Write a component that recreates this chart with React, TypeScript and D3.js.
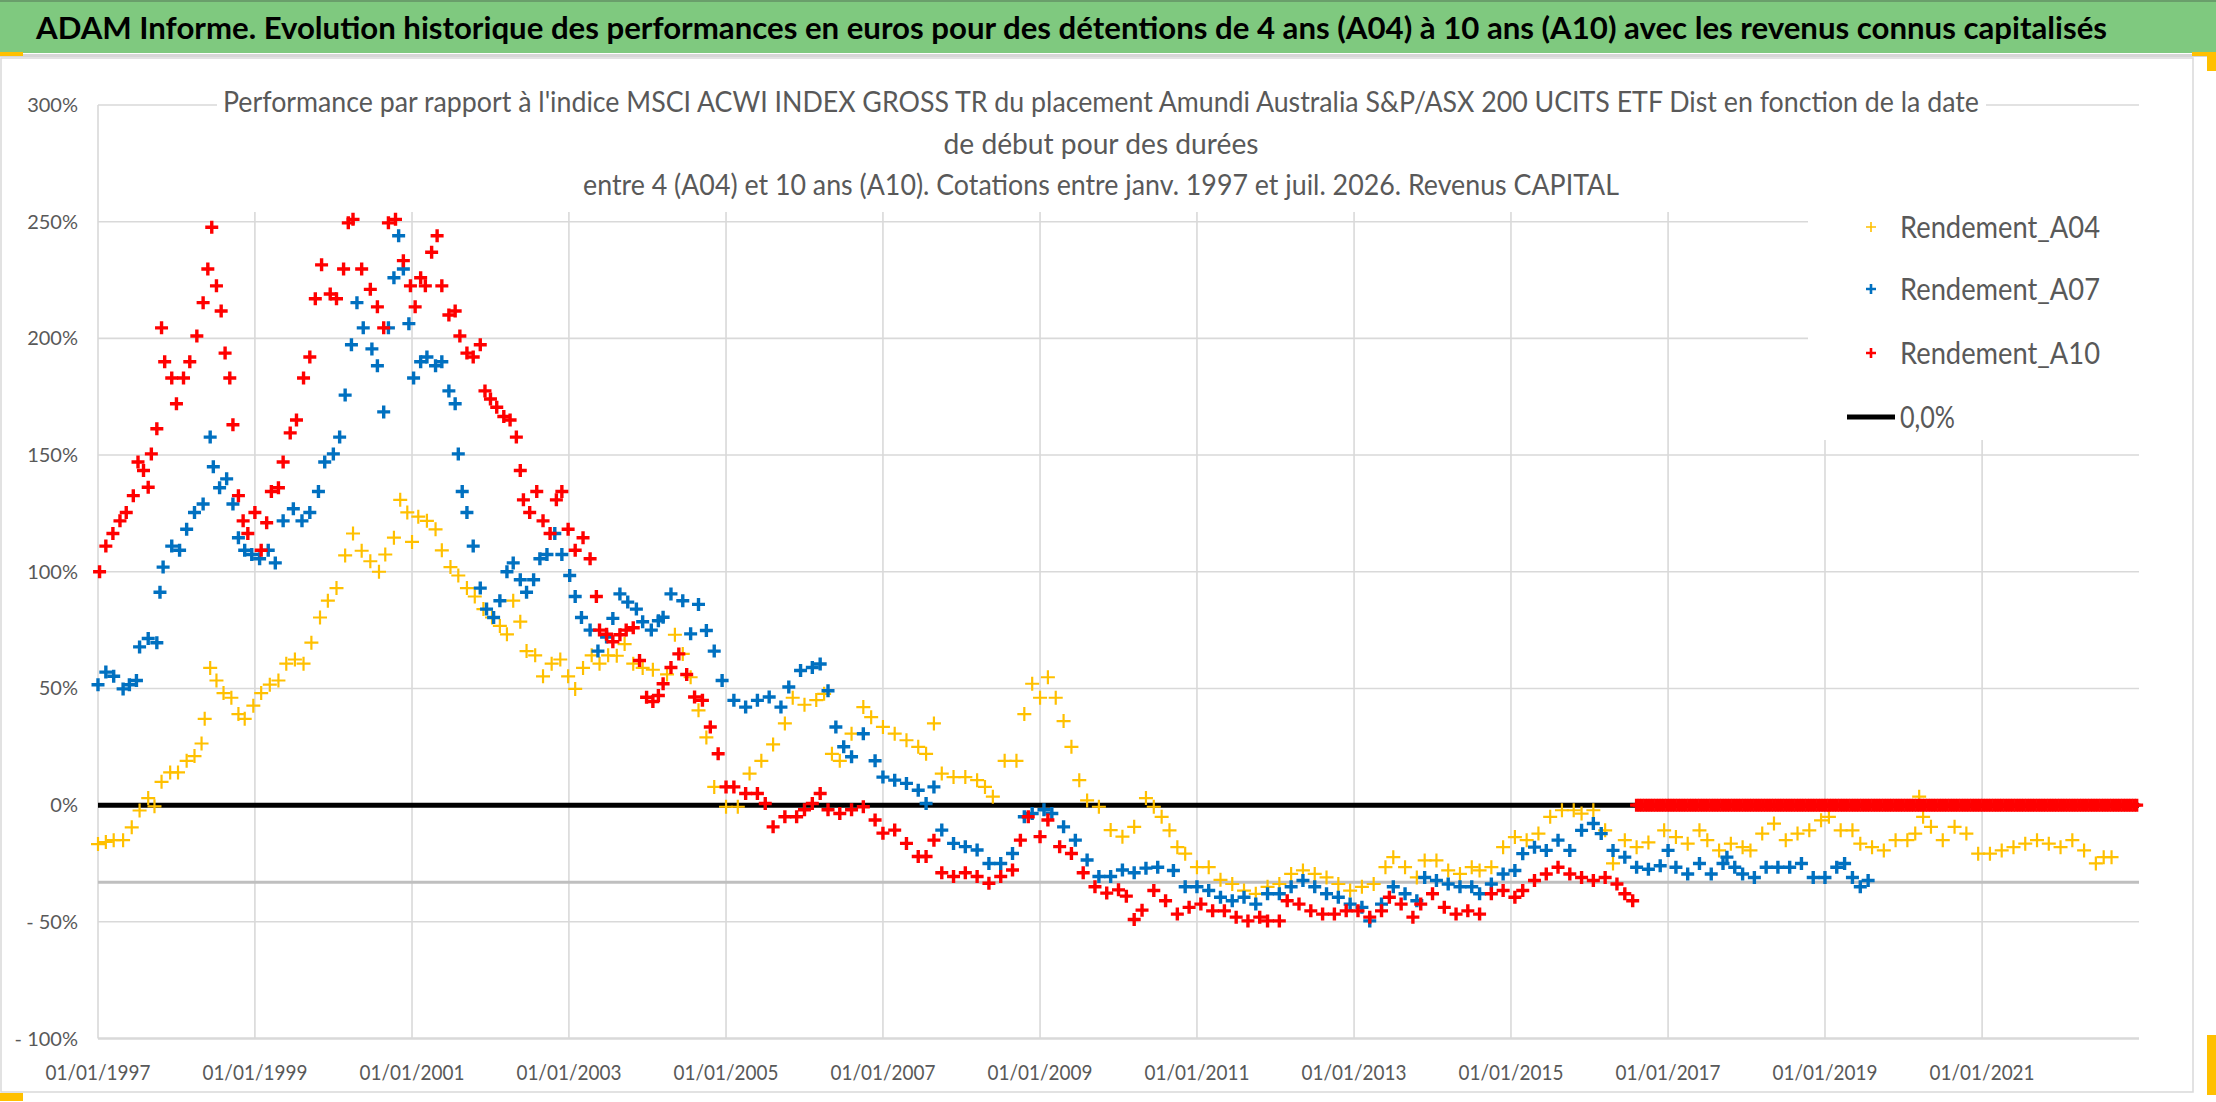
import React from "react";
import * as d3 from "d3";

// Taille de l'image
const width = 2216;
const height = 1102;

// Rendement_A04 : [année décimale, %]
const a04: [number, number][] = [
    [1997.00, -16.7], [1997.10, -15.8], [1997.20, -15], [1997.32, -15], [1997.43, -9.5], [1997.53, -2.3],
    [1997.64, 3], [1997.72, -0.5], [1997.81, 10], [1997.92, 14], [1998.02, 14], [1998.13, 19], [1998.23, 21],
    [1998.32, 26.4], [1998.36, 37], [1998.43, 58.8], [1998.51, 53.4], [1998.60, 48], [1998.70, 46], [1998.79, 39],
    [1998.87, 37], [1998.98, 42.6], [1999.08, 48], [1999.19, 51.6], [1999.30, 53.4], [1999.40, 60.6], [1999.51, 62.4],
    [1999.62, 60.6], [1999.72, 69.6], [1999.83, 80.4], [1999.93, 87.6], [2000.04, 93], [2000.15, 107], [2000.25, 116.4],
    [2000.36, 109], [2000.47, 104.5], [2000.58, 100], [2000.66, 107.4], [2000.77, 114.6], [2000.85, 130.8],
    [2000.94, 125.4], [2001.00, 112.8], [2001.08, 123.6], [2001.19, 121.8], [2001.30, 118.2], [2001.38, 109.2],
    [2001.49, 102], [2001.59, 98.4], [2001.70, 93], [2001.80, 89.4], [2001.91, 84], [2002.02, 80.4], [2002.12, 76.8],
    [2002.21, 73.2], [2002.29, 87.6], [2002.38, 78.6], [2002.46, 66], [2002.57, 64.2], [2002.67, 55.2], [2002.78, 60.6],
    [2002.89, 62.4], [2002.99, 55.2], [2003.08, 49.8], [2003.18, 58.8], [2003.29, 64.2], [2003.39, 60.6], [2003.50, 64.2],
    [2003.61, 64], [2003.71, 69], [2003.82, 60.6], [2003.94, 58.8], [2004.07, 58], [2004.25, 56], [2004.35, 73],
    [2004.45, 64.8], [2004.55, 54.8], [2004.65, 40.6], [2004.75, 29], [2004.85, 7.8], [2005.00, -0.7], [2005.15, -0.7],
    [2005.30, 13.5], [2005.45, 19], [2005.60, 26], [2005.75, 35], [2005.85, 46], [2006.00, 43], [2006.15, 45],
    [2006.25, 47.7], [2006.35, 22], [2006.45, 19], [2006.60, 30.6], [2006.75, 42], [2006.85, 37.7], [2007.00, 33.5],
    [2007.15, 30.6], [2007.30, 27.8], [2007.45, 25], [2007.55, 22], [2007.65, 35], [2007.75, 13.5], [2007.90, 12],
    [2008.05, 12], [2008.20, 10.7], [2008.30, 7.8], [2008.40, 3.6], [2008.55, 19], [2008.70, 19], [2008.80, 39],
    [2008.90, 52], [2009.00, 46], [2009.10, 54.8], [2009.20, 46], [2009.30, 36], [2009.40, 25], [2009.50, 10.7],
    [2009.60, 2], [2009.75, -0.7], [2009.90, -10.7], [2010.05, -13.5], [2010.20, -9.3], [2010.35, 3], [2010.45, -0.7],
    [2010.55, -5], [2010.65, -10.8], [2010.75, -18], [2010.85, -20.8], [2011.00, -26.6], [2011.15, -26.6],
    [2011.30, -32], [2011.45, -33.8], [2011.60, -36.6], [2011.75, -38], [2011.90, -35], [2012.05, -33.8],
    [2012.20, -29.5], [2012.35, -28], [2012.50, -29.5], [2012.65, -31], [2012.80, -33.8], [2012.95, -36.6],
    [2013.10, -35], [2013.25, -33.8], [2013.40, -26.6], [2013.50, -22.3], [2013.65, -26.6], [2013.80, -31],
    [2013.90, -23.7], [2014.05, -23.7], [2014.20, -28], [2014.35, -29.5], [2014.50, -26.6], [2014.60, -28],
    [2014.75, -26.6], [2014.90, -18], [2015.05, -13.7], [2015.20, -15], [2015.35, -12.2], [2015.50, -5],
    [2015.65, -2.2], [2015.80, -2.2], [2015.90, -3.6], [2016.05, -2.2], [2016.20, -10.8], [2016.30, -25],
    [2016.45, -15], [2016.60, -18], [2016.75, -16], [2016.95, -10.8], [2017.10, -13.7], [2017.25, -16.5],
    [2017.40, -10.8], [2017.50, -15], [2017.65, -19.4], [2017.80, -16.5], [2017.95, -18], [2018.05, -19.4],
    [2018.20, -12.2], [2018.35, -7.9], [2018.50, -15], [2018.65, -12.2], [2018.80, -10.8], [2018.95, -6.5],
    [2019.05, -5], [2019.20, -10.8], [2019.35, -10.8], [2019.45, -16.5], [2019.60, -18], [2019.75, -19.4],
    [2019.90, -15], [2020.05, -15], [2020.15, -12.2], [2020.20, 3.6], [2020.25, -5], [2020.35, -9.3], [2020.50, -15],
    [2020.65, -9.3], [2020.80, -12.2], [2020.95, -20.8], [2021.10, -20.8], [2021.25, -19.4], [2021.40, -18],
    [2021.55, -16.5], [2021.70, -15], [2021.85, -16.5], [2022.00, -18], [2022.15, -15], [2022.30, -19.4],
    [2022.45, -25], [2022.55, -22.3], [2022.65, -22.3],
];

// Rendement_A07
const a07: [number, number][] = [
    [1997.00, 51.6], [1997.10, 57], [1997.20, 55.2], [1997.32, 49.8], [1997.40, 51.6], [1997.49, 53.4],
    [1997.53, 67.8], [1997.64, 71.4], [1997.75, 69.6], [1997.79, 91.2], [1997.83, 102], [1997.94, 111],
    [1998.04, 109.2], [1998.13, 118.2], [1998.23, 125.4], [1998.34, 129], [1998.43, 157.7], [1998.47, 145],
    [1998.55, 136], [1998.64, 139.8], [1998.72, 129], [1998.79, 114.6], [1998.87, 109.2], [1998.96, 107.4],
    [1999.06, 105.6], [1999.17, 109.2], [1999.26, 103.8], [1999.36, 121.8], [1999.49, 127], [1999.60, 121.8],
    [1999.70, 125.4], [1999.81, 134.4], [1999.89, 147], [2000.00, 150.5], [2000.08, 157.7], [2000.15, 175.7],
    [2000.23, 197.3], [2000.30, 215.3], [2000.38, 204.5], [2000.49, 195.5], [2000.56, 188.3], [2000.64, 168.5],
    [2000.70, 204.5], [2000.77, 226], [2000.83, 244], [2000.89, 229.7], [2000.96, 206.3], [2001.02, 183],
    [2001.11, 190], [2001.19, 192], [2001.30, 188.3], [2001.38, 190], [2001.47, 177.5], [2001.55, 172],
    [2001.59, 150.5], [2001.64, 134.4], [2001.70, 125.4], [2001.78, 111], [2001.87, 93], [2001.95, 84],
    [2002.04, 80.4], [2002.12, 87.6], [2002.21, 100], [2002.29, 103.8], [2002.38, 96.6], [2002.46, 91.2],
    [2002.55, 96.6], [2002.63, 105.6], [2002.72, 107.4], [2002.82, 116.4], [2002.91, 107.4], [2003.01, 98.4],
    [2003.08, 89.4], [2003.16, 80.4], [2003.27, 75], [2003.37, 66], [2003.48, 72], [2003.56, 80], [2003.65, 90.5],
    [2003.75, 87], [2003.86, 84], [2003.94, 78.6], [2004.05, 75], [2004.14, 79], [2004.20, 80.5], [2004.30, 90.5],
    [2004.45, 87.6], [2004.55, 73.4], [2004.65, 86], [2004.75, 74.8], [2004.85, 66], [2004.95, 53.4],
    [2005.10, 44.9], [2005.25, 42], [2005.40, 44.9], [2005.55, 46.3], [2005.70, 42], [2005.80, 50.6],
    [2005.95, 57.7], [2006.10, 59], [2006.20, 60.5], [2006.30, 49], [2006.40, 33.5], [2006.50, 25], [2006.60, 20.7],
    [2006.75, 30.6], [2006.90, 19], [2007.00, 12], [2007.15, 10.7], [2007.30, 9.3], [2007.45, 6.4], [2007.55, 0.7],
    [2007.65, 7.8], [2007.75, -10.7], [2007.90, -16.4], [2008.05, -17.8], [2008.20, -19.2], [2008.35, -25],
    [2008.50, -25], [2008.65, -20.7], [2008.80, -5], [2008.90, -3.6], [2009.05, -2], [2009.15, -3.6],
    [2009.30, -9.3], [2009.45, -15], [2009.60, -23.5], [2009.75, -30.6], [2009.90, -30.6], [2010.05, -27.8],
    [2010.20, -29], [2010.35, -27], [2010.50, -26.6], [2010.70, -28], [2010.85, -35], [2011.00, -35],
    [2011.15, -36.6], [2011.30, -39.5], [2011.45, -41], [2011.60, -39.5], [2011.75, -42.4], [2011.90, -38],
    [2012.05, -38], [2012.20, -35], [2012.35, -32.3], [2012.50, -35], [2012.65, -38], [2012.80, -39.5],
    [2012.95, -42.4], [2013.10, -43.8], [2013.20, -49.6], [2013.35, -42.4], [2013.50, -35], [2013.65, -38],
    [2013.80, -41], [2013.90, -31], [2014.05, -32.3], [2014.20, -33.8], [2014.35, -35], [2014.50, -35],
    [2014.60, -38], [2014.75, -33.8], [2014.90, -29.5], [2015.05, -28], [2015.15, -20.8], [2015.30, -18],
    [2015.45, -19.4], [2015.60, -15], [2015.75, -19.4], [2015.90, -10.8], [2016.05, -7.9], [2016.15, -12.2],
    [2016.30, -19.4], [2016.45, -22.3], [2016.60, -26.6], [2016.75, -27.5], [2016.90, -26], [2017.00, -19.4],
    [2017.10, -26.6], [2017.25, -29.5], [2017.40, -25], [2017.55, -29.5], [2017.70, -25], [2017.75, -22.3],
    [2017.85, -26.6], [2017.95, -29.5], [2018.10, -31], [2018.25, -26.6], [2018.40, -26.6], [2018.55, -26.6],
    [2018.70, -25], [2018.85, -31], [2019.00, -31], [2019.15, -26.6], [2019.25, -25], [2019.35, -31],
    [2019.45, -35], [2019.55, -32.3],
];

// Rendement_A10
const a10: [number, number][] = [
    [1997.02, 100], [1997.10, 111], [1997.19, 116.4], [1997.28, 121.8], [1997.36, 125.4], [1997.45, 132.6],
    [1997.51, 147], [1997.58, 143.4], [1997.64, 136.2], [1997.68, 150.5], [1997.75, 161.3], [1997.81, 204.5],
    [1997.85, 190], [1997.94, 183], [1998.00, 172], [1998.09, 183], [1998.17, 190], [1998.26, 201],
    [1998.34, 215.3], [1998.40, 229.7], [1998.45, 247.6], [1998.51, 222.5], [1998.57, 211.7], [1998.62, 193.7],
    [1998.68, 183], [1998.72, 163], [1998.79, 132.6], [1998.85, 121.8], [1998.91, 116.4], [1999.00, 125.4],
    [1999.08, 109.2], [1999.15, 121], [1999.21, 134.4], [1999.30, 136], [1999.36, 147], [1999.45, 159.5],
    [1999.53, 165], [1999.62, 183], [1999.70, 192], [1999.77, 217], [1999.85, 231.5], [1999.96, 219],
    [2000.04, 217], [2000.13, 229.7], [2000.19, 249.5], [2000.25, 251], [2000.36, 229.7], [2000.47, 221],
    [2000.56, 213.5], [2000.64, 204.5], [2000.70, 249.5], [2000.79, 251], [2000.89, 233.3], [2000.98, 222.5],
    [2001.04, 213.5], [2001.11, 226], [2001.17, 222.5], [2001.25, 236.9], [2001.32, 244], [2001.38, 222.5],
    [2001.47, 210], [2001.55, 211.7], [2001.61, 201], [2001.70, 193.7], [2001.78, 192], [2001.87, 197.3],
    [2001.93, 177.5], [2002.00, 174], [2002.08, 170.5], [2002.17, 166.5], [2002.25, 165], [2002.33, 157.7],
    [2002.38, 143.4], [2002.42, 130.8], [2002.50, 125.4], [2002.59, 134.4], [2002.67, 121.8], [2002.76, 116.4],
    [2002.84, 130.8], [2002.91, 134.4], [2002.99, 118.2], [2003.08, 109.2], [2003.18, 114.6], [2003.27, 105.6],
    [2003.35, 89.4], [2003.39, 75], [2003.48, 73.2], [2003.56, 70], [2003.65, 73], [2003.73, 75], [2003.82, 76],
    [2003.90, 62], [2003.99, 46.2], [2004.07, 44.4], [2004.14, 47], [2004.20, 52], [2004.30, 59], [2004.40, 64.8],
    [2004.50, 56], [2004.60, 46.3], [2004.70, 44.9], [2004.80, 33.5], [2004.90, 22], [2005.00, 7.8], [2005.10, 7.8],
    [2005.25, 5], [2005.40, 5], [2005.50, 0.7], [2005.60, -9.3], [2005.75, -5], [2005.90, -5], [2006.00, -2],
    [2006.10, 0.7], [2006.20, 5], [2006.30, -2], [2006.45, -3.6], [2006.60, -2], [2006.75, -0.7], [2006.90, -6.4],
    [2007.00, -12], [2007.15, -10.7], [2007.30, -16.4], [2007.45, -22], [2007.55, -22], [2007.65, -15],
    [2007.75, -29], [2007.90, -30.6], [2008.05, -29], [2008.20, -30.6], [2008.35, -33.5], [2008.50, -30.6],
    [2008.65, -27.8], [2008.75, -15], [2008.85, -5], [2009.00, -13.5], [2009.10, -6.4], [2009.25, -17.8],
    [2009.40, -20.7], [2009.55, -29], [2009.70, -35], [2009.85, -37.7], [2010.00, -36.3], [2010.10, -39],
    [2010.20, -49], [2010.30, -45], [2010.45, -36.6], [2010.60, -41], [2010.75, -46.7], [2010.90, -43.8],
    [2011.05, -42.4], [2011.20, -45.3], [2011.35, -45.3], [2011.50, -48], [2011.65, -49.6], [2011.80, -48],
    [2011.90, -49.6], [2012.05, -49.6], [2012.15, -41], [2012.30, -42.4], [2012.45, -45.3], [2012.60, -46.7],
    [2012.75, -46.7], [2012.90, -45.3], [2013.05, -45.3], [2013.20, -48], [2013.35, -45.3], [2013.45, -39.5],
    [2013.60, -42.4], [2013.75, -48], [2013.85, -42.4], [2014.00, -38], [2014.15, -43.8], [2014.30, -46.7],
    [2014.45, -45.3], [2014.60, -46.7], [2014.75, -38], [2014.90, -36.6], [2015.05, -39.5], [2015.15, -36.6],
    [2015.30, -32.3], [2015.45, -29.5], [2015.60, -26.6], [2015.75, -29.5], [2015.90, -31], [2016.05, -32.3],
    [2016.20, -31], [2016.35, -33.8], [2016.45, -38], [2016.55, -41],
];

// après mi-2016 la série A10 vaut 0 jusqu'au bout de l'axe
const a10ZeroFrom = 2016.6;
const a10ZeroTo = 2023.0;

const refLineValue = -33; // ligne grise horizontale
const yTickValues = [300, 250, 200, 150, 100, 50, 0, -50, -100];
const xTickYears = [1997, 1999, 2001, 2003, 2005, 2007, 2009, 2011, 2013, 2015, 2017, 2019, 2021];
const legendLabels = ["Rendement_A04", "Rendement_A07", "Rendement_A10"];

const titleText = "ADAM Informe. Evolution historique des performances en euros pour des détentions de 4 ans (A04) à 10 ans (A10) avec les revenus connus capitalisés";
const subtitleLines = [
    "Performance par rapport à l'indice MSCI ACWI INDEX GROSS TR  du placement Amundi Australia S&P/ASX 200 UCITS ETF Dist en fonction de la date",
    "de début pour des durées",
    "entre 4 (A04) et 10 ans (A10). Cotations entre janv. 1997 et juil. 2026. Revenus CAPITAL",
];

const font = "Lato, 'Liberation Sans', sans-serif";
const grey = "#595959";

function yearToDate(y: number): Date {
    const yr = Math.floor(y);
    const start = Date.UTC(yr, 0, 1);
    const end = Date.UTC(yr + 1, 0, 1);
    return new Date(start + (y - yr) * (end - start));
}

const cross = (s: number) => `M${-s},0H${s}M0,${-s}V${s}`;

const App: React.FC = () => {
    const plot = {left: 98, right: 2139, top: 105, bottom: 1038.5};

    const x = d3.scaleUtc()
        .domain([new Date(Date.UTC(1997, 0, 1)), new Date(Date.UTC(2023, 0, 1))])
        .range([plot.left, plot.right]);
    const y = d3.scaleLinear().domain([-100, 300]).range([plot.bottom, plot.top]);

    const a10Zero: [number, number][] = d3.range(a10ZeroFrom, a10ZeroTo + 1e-6, 0.035).map(t => [t, 0]);

    const series = [
        {name: legendLabels[0], data: a04, color: "#ffc000", size: 7, sw: 2.2},
        {name: legendLabels[1], data: a07, color: "#0070c0", size: 6.5, sw: 3.4},
        {name: legendLabels[2], data: [...a10, ...a10Zero], color: "#ff0000", size: 6.5, sw: 3.4},
    ];

    const yLabel = (v: number) => (v < 0 ? `- ${Math.abs(v)}%` : `${v}%`);
    const subCenter = 1101;
    const subLens = [1756, 315, 1036];
    const subBase = [112, 154, 195];

    return (
        <svg width={width} height={height} style={{position: "absolute", left: 0, top: 0, display: "block"}}
             fontFamily={font}>
            <rect x={0} y={0} width={width} height={height} fill="#fff"/>

            {/* bandeau titre */}
            <rect x={0} y={0} width={width} height={53} fill="#7fc97f"/>
            <rect x={0} y={0} width={width} height={2} fill="#6a9e6b"/>
            <rect x={0} y={54} width={width} height={3} fill="#d6d6d6"/>
            <text x={36} y={39} fontSize={31} fontWeight="bold" fill="#000"
                  textLength={2071} lengthAdjust="spacingAndGlyphs">{titleText}</text>

            {/* cadre du graphique */}
            <rect x={1} y={58} width={2192} height={1034} fill="#fff" stroke="#d9d9d9" strokeWidth={1.5}/>

            {/* grille */}
            <g stroke="#d9d9d9" strokeWidth={1.6}>
                {yTickValues.map(v => (
                    <line key={v} x1={plot.left} x2={plot.right} y1={y(v)} y2={y(v)}
                          strokeWidth={v === -100 ? 2.6 : 1.6}/>
                ))}
                {xTickYears.map(yr => (
                    <line key={yr} x1={x(yearToDate(yr))} x2={x(yearToDate(yr))} y1={plot.top} y2={plot.bottom}/>
                ))}
            </g>

            {/* étiquettes axe Y */}
            <g fontSize={20} fill={grey} textAnchor="end">
                {yTickValues.map(v => (
                    <text key={v} x={78} y={y(v)} dy="0.35em">{yLabel(v)}</text>
                ))}
            </g>

            {/* étiquettes axe X */}
            <g fontSize={21} fill={grey}>
                {xTickYears.map(yr => (
                    <text key={yr} x={x(yearToDate(yr)) - 52.5} y={1080} textLength={105}
                          lengthAdjust="spacingAndGlyphs">{d3.utcFormat("%d/%m/%Y")(yearToDate(yr))}</text>
                ))}
            </g>

            {/* ligne grise et ligne 0 */}
            <line x1={plot.left} x2={plot.right} y1={y(refLineValue)} y2={y(refLineValue)}
                  stroke="#bfbfbf" strokeWidth={3}/>
            <line x1={plot.left} x2={plot.right} y1={y(0)} y2={y(0)} stroke="#000" strokeWidth={5}/>

            {/* séries */}
            {series.map(s => (
                <g key={s.name} stroke={s.color} strokeWidth={s.sw} fill="none">
                    {s.data.map((d, i) => (
                        <path key={i} d={cross(s.size)}
                              transform={`translate(${x(yearToDate(d[0]))},${y(d[1])})`}/>
                    ))}
                </g>
            ))}

            {/* titre du graphique */}
            <rect x={217} y={82} width={1769} height={130} fill="#fff"/>
            <g fontSize={28} fill={grey} style={{whiteSpace: "pre"}}>
                {subtitleLines.map((t, i) => (
                    <text key={i} x={subCenter - subLens[i] / 2} y={subBase[i]} textLength={subLens[i]}
                          lengthAdjust="spacingAndGlyphs">{t}</text>
                ))}
            </g>

            {/* légende */}
            <rect x={1808} y={196} width={331} height={244} fill="#fff"/>
            {series.map((s, i) => (
                <g key={s.name} transform={`translate(0,${[227, 289, 353][i]})`}>
                    <path d={cross(5)} transform="translate(1871,0)" stroke={s.color}
                          strokeWidth={i === 0 ? 1.6 : 2.6} fill="none"/>
                    <text x={1900} dy="0.36em" fontSize={30} fill={grey} textLength={200}
                          lengthAdjust="spacingAndGlyphs">{s.name}</text>
                </g>
            ))}
            <line x1={1847} x2={1895} y1={417} y2={417} stroke="#000" strokeWidth={5}/>
            <text x={1900} y={417} dy="0.36em" fontSize={30} fill={grey} textLength={55}
                  lengthAdjust="spacingAndGlyphs">0,0%</text>

            {/* poignées de sélection */}
            <g fill="#ffc000">
                <rect x={0} y={52} width={23} height={4}/>
                <rect x={0} y={1093} width={23} height={8}/>
                <rect x={2192} y={52} width={24} height={4}/>
                <rect x={2207} y={52} width={9} height={19}/>
                <rect x={2207} y={1035} width={9} height={60}/>
            </g>
        </svg>
    );
};

export default App;
